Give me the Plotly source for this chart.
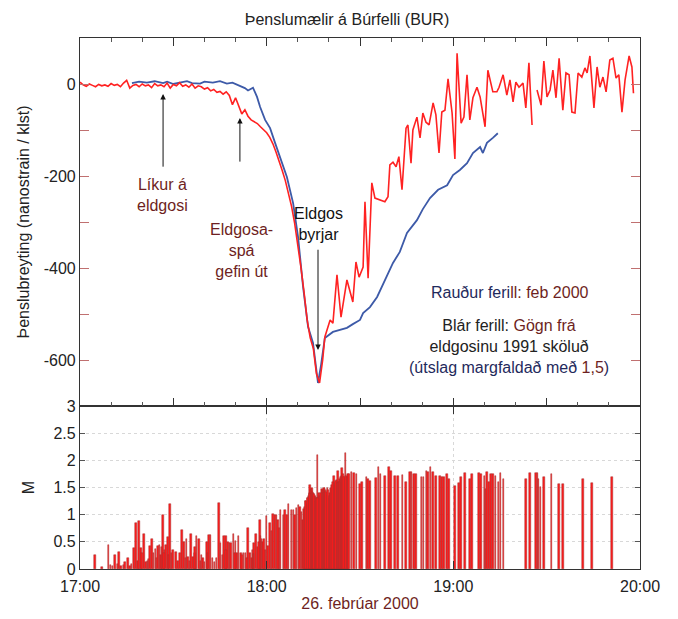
import plotly.graph_objects as go

# ---- data (minutes after 17:00) ----
red_t = [0,1,2,3,4,5,6,7,8,9,10,11,12,13,14,15,16,17,18,19,20,21,22,23,24,25,26,27,28,29,
         30,31,32,33,34,35,36,37,38,39,40,41,42,43,44,45,46,47,48,49,50,51,52,53,54,55,56,57,58,59,
         60,61,62,63,64,65,66,67,68,69,70,71,72,73,74,75,76,77,78,78.7,80.4,81.3,82.6,83.9,85.8,87.7,
         88.7,89.7,91.0,91.6,92.6,93.8,94.8,96.4,98.0,99.0,99.6,100.6,101.6,102.5,103.5,104.8,105.4,
         106.4,107.0,108.3,109.3,110.2,111.2,112.2,113.5,114.4,115.4,116.3,117.3,118.3,119.6,120.5,
         121.2,122.5,123.4,124.4,125.3,126.3,127.6,128.6,130.2,131.1,132.7,134.0,134.7,136.0,137.2,
         138.2,139.2,140.1,141.1,142.4,143.3,144.3,145.3,146.1,146.9,148.2,149.1,150.1,151.1,152.0,
         153.0,154.0,155.2,156.2,157.2,158.1,159.1,160.1,161.3,162.3,163.0,163.9,165.2,166.2,167.1,
         168.1,169.1,170.3,171.3,172.3,173.2,174.2,175.2,176.5,177.4,177.9]
red_v = [4,-2,-5,0,-3,-6,-1,-4,-2,-5,1,-3,-1,-6,2,8,-9,-3,-1,-6,0,-4,-2,-8,1,-4,-2,-6,2,-9,
         -1,-4,3,-5,-2,-7,0,-9,-4,-6,-11,-8,-15,-12,-18,-16,-22,-17,-25,-45,-30,-50,-65,-56,-70,-78,-82,-86,-93,-100,
         -106,-116,-130,-148,-166,-188,-210,-236,-266,-303,-348,-398,-452,-512,-552,-575,-630,-650,-600,-550,-513,-520,-415,-507,-426,-474,
         -387,-420,-398,-256,-422,-215,-248,-252,-256,-245,-176,-170,-180,-158,-230,-96,-89,
         -172,-100,-72,-117,-63,-83,-89,-41,-67,-150,-61,-57,11,-63,-163,
         67,-85,-72,20,-78,-30,-7,-28,-93,30,-17,-17,-7,20,-24,
         9,-39,4,-7,2,-52,46,-89,None,-13,-46,50,-28,-13,30,
         -30,56,-57,24,20,-61,-63,24,15,35,24,61,-52,37,-7,
         15,-17,52,56,13,20,-61,9,61,37,-20]

blue_t = [16.7,19,21.5,24,26.7,28,30,32,34.4,36,38.6,40,42.7,45,47.2,49,51.4,53,54,55.6,56.9,57.9,
          59.5,61.1,62.7,64.3,66.5,68.5,70.1,71.7,73.3,74.9,76.5,77.5,78.7,81.3,83.6,85.8,87.7,90.0,
          91.0,93.2,95.5,98.0,100.6,102.8,105.1,108.3,110.2,112.5,115.1,118.0,119.9,122.1,124.4,
          126.3,128.6,129.5,130.8,132.7,134.3]
blue_v = [2,5,3,6,2,5,0,3,6,2,1,5,3,6,1,3,-4,-9,-14,-8,-28,-50,
          -78,-96,-128,-159,-202,-259,-333,-441,-528,-563,-650,-610,-552,-539,-535,-530,-522,-513,
          -498,-485,-463,-426,-389,-365,-324,-296,-272,-248,-230,-220,-198,-187,-172,
          -150,-137,-150,-128,-117,-107]

eq_t = [4.8,7.1,9.1,11.2,12.5,13.2,14.0,15.5,16.6,17.4,18.0,18.6,19.0,19.6,20.6,21.2,21.7,22.5,23.1,23.6,
        24.2,25.0,25.6,26.6,27.2,27.6,28.2,28.9,29.4,30.9,32.7,33.4,34.3,34.8,35.6,36.4,36.9,37.5,38.2,38.7,
        39.5,40.0,40.8,41.4,42.0,42.6,43.3,44.6,45.2,45.8,46.3,46.9,47.5,48.0,48.6,49.3,50.0,50.5,51.0,51.8,
        52.5,53.2,54.0,54.6,55.2,55.5,56.0,56.6,57.2,57.8,58.4,58.8,59.5,60.0,60.5,61.1,62.1,62.7,63.2,64.0,
        64.5,65.4,65.9,67.0,68.0,68.6,69.6,70.2,70.7,71.6,72.0,72.5,72.8,73.1,73.5,73.9,74.2,74.5,74.8,75.0,
        75.3,75.5,75.8,76.3,76.6,76.9,77.3,77.7,78.0,78.4,78.8,79.1,79.4,79.6,80.0,80.4,80.8,81.2,81.6,82.0,
        82.5,82.8,83.0,83.3,83.6,84.0,84.3,84.7,85.0,85.3,85.8,86.2,87.3,88.1,88.9,90.0,90.6,92.1,92.6,93.2,
        95.1,96.0,96.6,98.0,99.4,100.0,101.2,102.3,103.7,104.8,106.1,106.6,107.3,108.0,109.8,110.4,111.4,111.9,
        112.7,113.4,114.4,115.7,116.3,117.0,118.0,118.6,120.5,121.8,122.4,123.7,125.3,126.0,128.3,128.9,130.0,
        130.3,130.8,131.4,132.1,132.7,133.5,134.5,135.1,136.1,143.3,144.6,146.5,147.0,147.4,148.0,149.2,151.6,
        154.0,155.2,161.7,164.5,171.0,
        72.2,72.7,73.3,73.7,74.0,74.4,74.7,75.2,75.7,76.1,76.5,77.1,77.5,77.9,78.2,78.6,79.0,79.8,80.2,80.6,
        81.0,81.4,81.8,82.2,82.7,83.5,83.8,84.1,84.5,84.9,85.5,86.0,86.5,
        9.8,10.5,12.0,14.5,16.0,20.0,22.0,24.6,26.0,26.2,27.0,28.5,29.9,31.5,32.2,33.9,35.2,37.0,39.0,41.0,
        43.9,47.0,49.8,52.0,53.7,55.8,57.5,58.0,59.2,61.5,63.6,66.5,69.1,71.2]
eq_m = [0.26,0.03,0.45,0.25,0.32,0.06,0.08,0.2,0.1,0.38,0.85,0.15,0.88,0.38,0.65,0.12,0.15,0.42,0.55,0.3,
        0.36,0.42,0.45,1.0,0.35,0.45,0.58,1.2,0.3,0.32,0.72,0.5,0.55,0.22,0.65,0.22,0.3,0.6,0.55,0.15,
        0.2,0.12,0.5,0.62,0.62,0.2,0.12,1.22,0.48,0.25,0.6,0.6,0.5,0.48,0.47,0.65,0.52,0.3,0.6,0.3,
        0.3,0.3,0.75,0.3,0.2,0.35,0.48,0.65,0.4,0.9,0.55,0.5,0.35,0.98,0.42,0.84,1.02,1.0,1.0,0.75,
        1.08,1.0,1.08,1.2,1.08,1.08,1.12,1.17,1.14,0.9,1.1,1.26,1.2,1.3,1.35,1.54,1.45,1.5,1.3,1.4,
        1.35,1.24,1.3,2.1,1.25,1.4,1.3,1.47,1.35,1.5,1.45,1.4,1.35,1.5,1.3,1.4,1.45,1.5,1.72,1.55,
        1.63,1.6,1.81,1.6,1.65,1.65,1.85,1.7,1.68,2.13,1.7,1.75,1.78,1.76,1.75,1.57,1.6,1.7,1.66,1.62,
        1.67,1.87,1.74,1.72,1.87,1.8,1.72,1.72,1.73,1.6,1.78,1.78,1.74,1.74,1.7,1.7,1.81,1.78,
        1.87,1.78,1.72,1.72,1.69,1.69,1.74,1.66,1.52,1.59,1.69,1.76,1.66,1.74,1.76,1.74,1.71,
        1.48,1.78,1.6,1.74,1.74,1.71,1.6,1.76,1.66,1.65,1.76,1.76,1.76,1.65,1.51,1.7,1.74,
        1.57,1.56,1.65,1.59,1.69,
        1.15,1.25,1.3,1.4,1.38,1.48,1.42,1.38,1.35,1.3,1.3,1.35,1.4,1.45,1.4,1.5,1.42,1.45,1.35,1.5,
        1.55,1.6,1.58,1.62,1.58,1.6,1.7,1.72,1.75,1.7,1.72,1.7,1.74,
        0.08,0.05,0.1,0.12,0.05,0.3,0.18,0.2,0.25,0.4,0.3,0.25,0.35,0.15,0.3,0.2,0.15,0.4,0.25,0.3,
        0.2,0.35,0.3,0.25,0.2,0.28,0.5,0.6,0.55,0.7,0.9,1.0,1.0,1.05]

x_tickvals = [0, 60, 120, 180]
x_ticktext = ["17:00", "18:00", "19:00", "20:00"]
y_tickvals = [-600, -400, -200, 0]
y_ticktext = ["-600", "-400", "-200", "0"]
m_tickvals = [0, 0.5, 1, 1.5, 2, 2.5, 3]
m_ticktext = ["0", "0.5", "1", "1.5", "2", "2.5", "3"]

FONT = "Liberation Sans, Arial, sans-serif"
DARKRED = "#6e1f22"
NAVY = "#1f2a5c"

fig = go.Figure()

fig.add_trace(go.Bar(x=eq_t, y=eq_m, width=0.5, xaxis="x", yaxis="y",
                     marker=dict(color="#ff1a1a", line=dict(color="#a33434", width=0.5)),
                     showlegend=False))
fig.add_trace(go.Scatter(x=blue_t, y=blue_v, mode="lines", xaxis="x2", yaxis="y2",
                         line=dict(color="#3d5aa8", width=1.8), showlegend=False))
fig.add_trace(go.Scatter(x=red_t, y=red_v, mode="lines", xaxis="x2", yaxis="y2",
                         line=dict(color="#ff2222", width=1.6), showlegend=False, connectgaps=False))

axis_common = dict(showline=True, linecolor="#333", linewidth=1.2, mirror="ticks",
                   tickfont=dict(family=FONT, size=16, color="#222"))

fig.update_layout(
    width=678, height=619,
    margin=dict(l=72, r=46, t=30, b=58),
    paper_bgcolor="white", plot_bgcolor="white",
    bargap=0,
    font=dict(family=FONT, size=16, color="#222"),
    title=dict(text="Þenslumælir á Búrfelli (BUR)", x=0.5, xref="container",
               y=1 - 11 / 619, yref="container", yanchor="middle", xanchor="center",
               font=dict(family=FONT, size=16, color="#222")),
    xaxis=dict(domain=[0, 1], range=[0, 180], anchor="y",
               tickvals=x_tickvals, ticktext=x_ticktext, ticks="inside", ticklen=8,
               ticklabelstandoff=3,
               tickcolor="#333", showgrid=True, gridcolor="#d8d8d8", griddash="dot",
               title=dict(text="26. febrúar 2000", standoff=3,
                          font=dict(family=FONT, size=16, color=DARKRED)),
               zeroline=False, **axis_common),
    yaxis=dict(domain=[0, 163 / 531], range=[0, 3], anchor="x",
               tickvals=m_tickvals, ticktext=m_ticktext,
               ticks="inside", ticklen=5, tickcolor="#555",
               showgrid=True, gridcolor="#d8d8d8", griddash="dot", zeroline=False,
               title=dict(text="M", standoff=14, font=dict(family=FONT, size=16, color="#222")),
               **axis_common),
    xaxis2=dict(domain=[0, 1], range=[0, 180], anchor="y2", matches="x",
                tickvals=[0, 30, 60, 90, 120, 150, 180], showticklabels=False,
                ticks="inside", ticklen=8, tickcolor="#333",
                minor=dict(dtick=10, tick0=0, ticks="inside", ticklen=4, tickcolor="#555"),
                showgrid=False, zeroline=False, **axis_common),
    yaxis2=dict(domain=[163 / 531, 1], range=[-700, 100], anchor="x2",
                tickvals=y_tickvals, ticktext=y_ticktext,
                ticks="inside", ticklen=9, tickcolor="#c07070",
                minor=dict(dtick=100, tick0=0, ticks="inside", ticklen=9, tickcolor="#c07070"),
                showgrid=False, zeroline=False,
                title=dict(text="Þenslubreyting (nanostrain / klst)", standoff=10,
                           font=dict(family=FONT, size=16, color="#222")),
                **axis_common),
)

# arrows
for xh, yh, yt in [(26.7, -22, -183), (51.4, -74, -172), (76.5, -578, -357)]:
    fig.add_annotation(x=xh, y=yh, ax=xh, ay=yt, xref="x2", yref="y2", axref="x2", ayref="y2",
                       text="", showarrow=True, arrowhead=2, arrowsize=1.1, arrowwidth=1,
                       arrowcolor="#111")

def txt(x, y, text, color="#222"):
    fig.add_annotation(x=x, y=y, xref="x2", yref="y2", text=text, showarrow=False,
                       font=dict(family=FONT, size=16, color=color), align="center",
                       xanchor="center", yanchor="middle")

txt(26.5, -242, "Líkur á<br>eldgosi", DARKRED)
txt(52.0, -361, "Eldgosa-<br>spá<br>gefin út", DARKRED)
txt(76.6, -305, "Eldgos<br>byrjar", "#111")
txt(138.2, -454, f"<span style='color:{NAVY}'>Rauður feri</span>"
                 f"<span style='color:{DARKRED}'>ll: feb 2000</span>")
txt(137.9, -570, f"<span style='color:#222'>Blár ferill: </span>"
                 f"<span style='color:{DARKRED}'>Gögn frá</span><br>"
                 f"<span style='color:#222'>eldgosinu 1991 sköluð</span><br>"
                 f"<span style='color:{NAVY}'>(útslag margfaldað með </span>"
                 f"<span style='color:{DARKRED}'>1,5</span>"
                 f"<span style='color:{NAVY}'>)</span>")

fig.write_html("out.html")
